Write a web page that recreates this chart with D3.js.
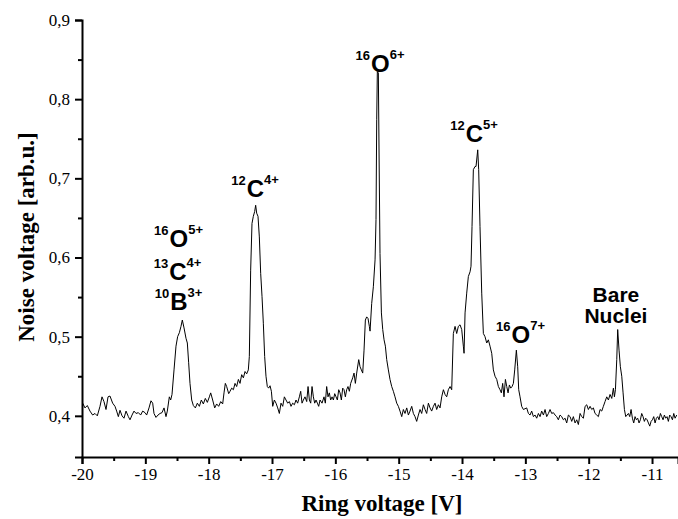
<!DOCTYPE html>
<html>
<head>
<meta charset="utf-8">
<script src="https://cdn.jsdelivr.net/npm/d3@7"></script>
<style>
  html, body { margin: 0; padding: 0; background: #fff; }
  svg { display: block; }
</style>
</head>
<body>
<svg id="chart" width="678" height="519"></svg>
<script>
// Noise spectrum of the trap: noise voltage versus ring voltage
const ringVoltage = [
  -19.989,-19.953,-19.916,-19.874,-19.832,-19.795,-19.758,-19.716,-19.684,-19.653,
  -19.621,-19.589,-19.558,-19.516,-19.479,-19.453,-19.426,-19.400,-19.368,-19.337,
  -19.305,-19.268,-19.242,-19.210,-19.179,-19.147,-19.110,-19.074,-19.042,-19.005,
  -18.979,-18.942,-18.911,-18.884,-18.863,-18.832,-18.800,-18.768,-18.737,-18.705,
  -18.674,-18.653,-18.621,-18.600,-18.579,-18.547,-18.516,-18.490,-18.463,-18.437,
  -18.416,-18.389,-18.358,-18.337,-18.316,-18.295,-18.268,-18.242,-18.210,-18.179,
  -18.147,-18.116,-18.084,-18.053,-18.021,-17.989,-17.968,-17.937,-17.905,-17.874,
  -17.842,-17.810,-17.779,-17.758,-17.737,-17.716,-17.684,
  -17.663,-17.637,-17.610,-17.584,-17.558,-17.531,-17.505,-17.479,-17.452,-17.426,
  -17.400,-17.374,-17.358,-17.337,-17.316,-17.295,-17.274,-17.258,-17.242,-17.221,
  -17.200,-17.179,-17.158,-17.137,-17.116,-17.095,-17.074,-17.053,-17.031,-17.010,
  -16.989,-16.963,-16.937,-16.910,-16.884,-16.858,-16.831,-16.805,-16.779,-16.752,
  -16.726,-16.700,-16.674,-16.647,-16.621,-16.595,-16.568,-16.547,-16.526,-16.505,
  -16.479,-16.452,-16.431,-16.410,-16.389,-16.368,-16.347,-16.326,-16.305,-16.284,
  -16.263,-16.242,-16.210,-16.179,-16.158,-16.137,-16.116,-16.095,-16.074,-16.052,
  -16.031,-16.010,-15.989,-15.968,-15.947,-15.926,-15.905,-15.884,-15.863,-15.842,
  -15.821,-15.800,-15.779,-15.758,-15.726,-15.705,-15.684,-15.663,-15.631,-15.610,
  -15.589,-15.568,-15.547,-15.526,-15.505,-15.484,-15.463,
  -15.452,-15.426,-15.400,-15.373,-15.358,-15.347,-15.337,-15.321,-15.310,-15.295,
  -15.273,-15.252,-15.231,-15.210,-15.189,-15.163,-15.137,-15.110,-15.084,-15.058,
  -15.031,-15.005,-14.979,-14.952,-14.926,-14.900,-14.873,-14.847,-14.821,-14.794,
  -14.768,-14.742,-14.716,-14.689,-14.663,-14.637,-14.610,-14.584,-14.558,-14.531,
  -14.505,-14.479,-14.452,-14.426,-14.400,-14.373,-14.347,-14.321,-14.294,-14.268,
  -14.242,-14.216,-14.189,-14.163,
  -14.137,-14.110,-14.084,-14.058,-14.031,-14.005,-13.979,-13.968,-13.952,-13.926,
  -13.900,-13.873,-13.858,-13.842,-13.821,-13.795,-13.779,-13.752,-13.737,-13.716,
  -13.689,-13.663,-13.637,-13.610,-13.584,-13.558,-13.531,-13.505,-13.479,-13.452,
  -13.426,-13.400,-13.379,-13.358,-13.337,-13.315,-13.294,-13.273,-13.252,-13.231,
  -13.210,-13.189,-13.168,-13.142,-13.121,-13.105,-13.084,-13.058,-13.031,
  -12.979,-12.952,-12.926,-12.900,-12.873,-12.847,-12.821,-12.794,-12.768,-12.742,
  -12.715,-12.689,-12.663,-12.636,-12.610,-12.584,-12.557,-12.531,-12.505,-12.479,
  -12.452,-12.426,-12.400,-12.373,-12.347,-12.321,-12.294,-12.268,-12.242,-12.215,
  -12.189,-12.163,-12.136,-12.110,-12.084,-12.057,-12.031,-12.005,-11.978,-11.952,
  -11.926,-11.900,-11.873,-11.847,-11.821,-11.794,-11.768,-11.742,-11.715,-11.689,
  -11.663,-11.636,-11.610,-11.594,-11.578,-11.557,-11.542,-11.521,-11.500,-11.478,
  -11.457,-11.436,-11.415,-11.394,-11.373,-11.352,-11.331,-11.310,-11.289,-11.268,
  -11.247,-11.226,-11.205,-11.184,-11.163,-11.142,-11.121,-11.100,-11.078,-11.057,
  -11.036,-11.015,-10.994,-10.973,-10.952,-10.931,-10.910,-10.889,-10.868,-10.847,
  -10.826,-10.805,-10.784,-10.763,-10.742,-10.721,-10.700,-10.678,-10.657,-10.636,
  -10.610
];
const noiseVoltage = [
  0.416,0.410,0.413,0.406,0.401,0.403,0.400,0.412,0.424,0.418,
  0.408,0.424,0.425,0.416,0.412,0.406,0.399,0.407,0.400,0.397,
  0.406,0.399,0.395,0.401,0.406,0.403,0.404,0.401,0.406,0.404,
  0.401,0.410,0.419,0.416,0.403,0.398,0.401,0.403,0.404,0.410,
  0.399,0.406,0.424,0.420,0.427,0.458,0.488,0.500,0.505,0.513,
  0.521,0.511,0.498,0.492,0.467,0.441,0.420,0.413,0.410,0.416,
  0.412,0.420,0.415,0.422,0.417,0.424,0.429,0.420,0.410,0.415,
  0.412,0.418,0.415,0.429,0.441,0.437,0.428,
  0.431,0.435,0.433,0.441,0.437,0.446,0.441,0.452,0.448,0.456,
  0.453,0.458,0.475,0.584,0.643,0.652,0.658,0.666,0.656,0.652,
  0.626,0.580,0.551,0.517,0.475,0.450,0.437,0.435,0.438,0.431,
  0.412,0.420,0.416,0.410,0.403,0.416,0.412,0.424,0.420,0.416,
  0.418,0.412,0.416,0.414,0.420,0.416,0.424,0.431,0.416,0.420,
  0.424,0.418,0.437,0.420,0.416,0.437,0.424,0.416,0.420,0.416,
  0.412,0.420,0.416,0.424,0.416,0.437,0.424,0.429,0.420,0.424,
  0.420,0.428,0.424,0.420,0.433,0.429,0.420,0.435,0.433,0.424,
  0.433,0.437,0.431,0.441,0.448,0.454,0.441,0.454,0.471,0.462,
  0.458,0.454,0.483,0.521,0.525,0.523,0.513,
  0.507,0.542,0.563,0.597,0.648,0.774,0.835,0.833,0.732,0.605,
  0.530,0.509,0.496,0.488,0.471,0.458,0.446,0.437,0.431,0.424,
  0.416,0.412,0.406,0.399,0.408,0.403,0.410,0.401,0.406,0.412,
  0.403,0.399,0.393,0.401,0.408,0.403,0.414,0.408,0.403,0.416,
  0.410,0.406,0.412,0.416,0.408,0.414,0.410,0.424,0.433,0.427,
  0.424,0.433,0.437,0.433,
  0.504,0.513,0.504,0.513,0.515,0.509,0.488,0.479,0.530,0.555,
  0.576,0.582,0.589,0.639,0.711,0.715,0.715,0.736,0.711,0.639,
  0.555,0.504,0.500,0.492,0.496,0.488,0.479,0.458,0.450,0.446,
  0.437,0.433,0.429,0.441,0.424,0.446,0.437,0.429,0.439,0.435,
  0.437,0.441,0.458,0.483,0.462,0.433,0.424,0.412,0.408,
  0.410,0.403,0.401,0.406,0.399,0.401,0.397,0.403,0.399,0.406,
  0.401,0.408,0.399,0.403,0.408,0.403,0.404,0.401,0.399,0.395,
  0.401,0.399,0.395,0.397,0.391,0.401,0.399,0.393,0.399,0.391,
  0.395,0.389,0.403,0.399,0.397,0.412,0.414,0.408,0.412,0.408,
  0.410,0.403,0.401,0.399,0.408,0.406,0.412,0.418,0.424,0.420,
  0.427,0.422,0.435,0.424,0.433,0.471,0.509,0.483,0.462,0.450,
  0.429,0.408,0.399,0.401,0.403,0.399,0.408,0.397,0.391,0.399,
  0.395,0.397,0.391,0.395,0.403,0.399,0.393,0.397,0.395,0.391,
  0.387,0.393,0.395,0.399,0.391,0.397,0.399,0.395,0.403,0.399,
  0.395,0.401,0.397,0.399,0.393,0.401,0.399,0.395,0.403,0.397,
  0.401
];

// Peak annotations: mass number, element, charge state
const ionMass    = ["16", "12", "16", "13", "10", "12", "16"];
const ionSymbol  = ["O",  "C",  "O",  "C",  "B",  "C",  "O"];
const ionCharge  = ["6+", "4+", "5+", "4+", "3+", "5+", "7+"];
const ionAnchorV = [-15.295, -17.268, -18.476, -18.492, -18.476, -13.810, -13.076];
const ionAnchorN = [0.834, 0.6765, 0.6134, 0.5717, 0.5338, 0.746, 0.4922];
const bareLines  = ["Bare", "Nuclei"];
const bareAnchorV = [-11.57, -11.57];
const bareAnchorN = [0.544, 0.5174];

const xTicks = d3.range(-20, -10, 1);
const yTicks = [0.4, 0.5, 0.6, 0.7, 0.8, 0.9];
const fmtY = v => d3.format(".1f")(v).replace(".", ",");

const svg = d3.select("#chart");
const x = d3.scaleLinear().domain([-20, -10.59]).range([82, 678]);
const y = d3.scaleLinear().domain([0.348, 0.9]).range([457, 20]);

// trace
const pts = ringVoltage.map((v, i) => [v, noiseVoltage[i]]);
svg.append("path")
  .datum(pts)
  .attr("fill", "none")
  .attr("stroke", "#000")
  .attr("stroke-width", 1)
  .attr("stroke-linejoin", "round")
  .attr("d", d3.line().x(d => x(d[0])).y(d => y(d[1])));

// axes
const serif = "'Liberation Serif', 'Times New Roman', serif";
const xAxis = svg.append("g").attr("transform", "translate(0,457)")
  .call(d3.axisBottom(x).tickValues(xTicks).tickFormat(d3.format("d")).tickSize(7).tickPadding(4));
const xMinor = svg.append("g").attr("transform", "translate(0,457)")
  .call(d3.axisBottom(x).tickValues(d3.range(-19.5, -10.5, 1)).tickFormat("").tickSize(4));
const yAxis = svg.append("g").attr("transform", "translate(82,0)")
  .call(d3.axisLeft(y).tickValues(yTicks).tickFormat(fmtY).tickSize(7).tickPadding(5));
const yMinor = svg.append("g").attr("transform", "translate(82,0)")
  .call(d3.axisLeft(y).tickValues([0.45, 0.55, 0.65, 0.75, 0.85]).tickFormat("").tickSize(4));

[xAxis, xMinor, yAxis, yMinor].forEach(g => {
  g.selectAll("path.domain").attr("stroke", "#000").attr("stroke-width", 2);
  g.selectAll(".tick line").attr("stroke", "#000").attr("stroke-width", 2);
  g.selectAll("text").attr("fill", "#000").style("font-family", serif).style("font-size", "17px");
});
xMinor.select("path.domain").remove();
yMinor.select("path.domain").remove();
xAxis.selectAll(".tick text").text(d => d3.format("d")(d).replace("\u2212", "-"));

// axis titles
svg.append("text")
  .attr("x", 382).attr("y", 511)
  .attr("text-anchor", "middle")
  .style("font-family", serif).style("font-weight", "bold").style("font-size", "23px")
  .text("Ring voltage [V]");
svg.append("text")
  .attr("transform", "translate(34,237) rotate(-90)")
  .attr("text-anchor", "middle")
  .style("font-family", serif).style("font-weight", "bold").style("font-size", "23px")
  .text("Noise voltage [arb.u.]");

// peak labels
const sans = "'Liberation Sans', Arial, sans-serif";
ionSymbol.forEach((sym, i) => {
  const t = svg.append("text")
    .attr("x", x(ionAnchorV[i])).attr("y", y(ionAnchorN[i]))
    .attr("text-anchor", "middle")
    .style("font-family", sans).style("font-weight", "bold");
  t.append("tspan").attr("dy", -12).style("font-size", "13px").text(ionMass[i]);
  t.append("tspan").attr("dy", 12).attr("dx", 1).style("font-size", "24px").text(sym);
  t.append("tspan").attr("dy", -13).style("font-size", "13px").text(ionCharge[i]);
});
bareLines.forEach((s, i) => {
  svg.append("text")
    .attr("x", x(bareAnchorV[i])).attr("y", y(bareAnchorN[i]))
    .attr("text-anchor", "middle")
    .style("font-family", sans).style("font-weight", "bold").style("font-size", "21px")
    .text(s);
});
</script>
</body>
</html>
